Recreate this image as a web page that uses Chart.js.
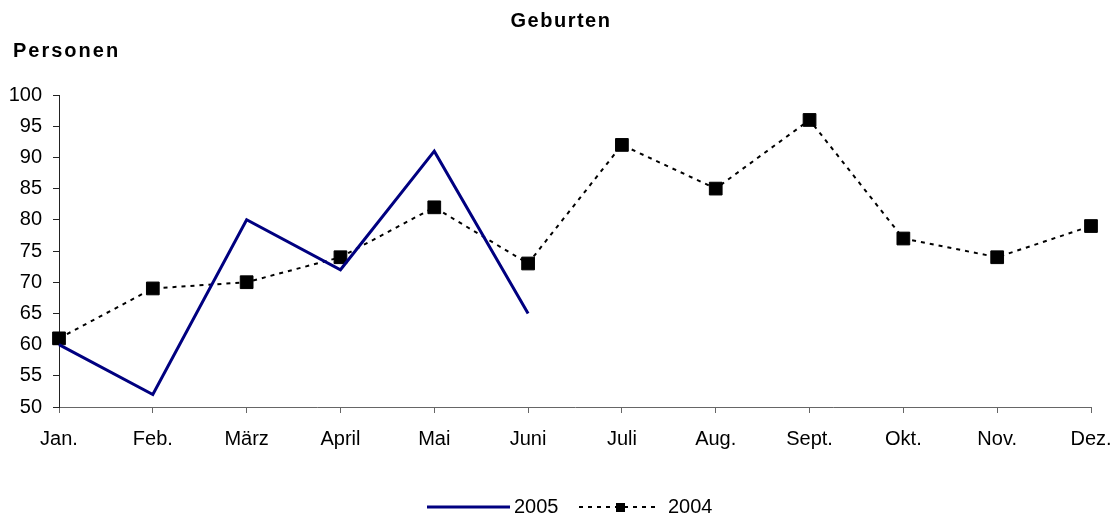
<!DOCTYPE html>
<html>
<head>
<meta charset="utf-8">
<script src="https://cdn.jsdelivr.net/npm/chart.js@4"></script>
<style>
  html, body { margin: 0; padding: 0; background: #fff; }
  #wrap { width: 1114px; height: 518px; }
</style>
</head>
<body>
<div id="wrap"><canvas id="chart"></canvas></div>
<script>
var months = ["Jan.", "Feb.", "März", "April", "Mai", "Juni", "Juli", "Aug.", "Sept.", "Okt.", "Nov.", "Dez."];
var births2005 = [60, 52, 80, 72, 91, 65, null, null, null, null, null, null];
var births2004 = [61, 69, 70, 74, 82, 73, 92, 85, 96, 77, 74, 79];
var yTicks = [50, 55, 60, 65, 70, 75, 80, 85, 90, 95, 100];

var FONT = "'Liberation Sans', Arial, sans-serif";

// titles and legend drawn by hand, Excel style
var extras = {
  id: "extras",
  afterDraw: function (chart) {
    var ctx = chart.ctx;
    ctx.save();
    ctx.fillStyle = "#000";
    ctx.font = "bold 20px " + FONT;
    ctx.letterSpacing = "1.5px";
    ctx.textBaseline = "alphabetic";
    ctx.textAlign = "center";
    ctx.fillText("Geburten", 561, 27);
    ctx.textAlign = "left";
    ctx.letterSpacing = "2px";
    ctx.fillText("Personen", 13, 57);
    ctx.letterSpacing = "0px";

    // legend
    var ds = chart.data.datasets;
    var y = 507;
    ctx.font = "20px " + FONT;
    ctx.strokeStyle = ds[0].borderColor;
    ctx.lineWidth = ds[0].borderWidth;
    ctx.beginPath();
    ctx.moveTo(427, y);
    ctx.lineTo(510, y);
    ctx.stroke();
    ctx.fillText(ds[0].label, 514, 513);

    ctx.strokeStyle = ds[1].borderColor;
    ctx.lineWidth = ds[1].borderWidth;
    ctx.setLineDash(ds[1].borderDash);
    ctx.beginPath();
    ctx.moveTo(579, y);
    ctx.lineTo(660, y);
    ctx.stroke();
    ctx.setLineDash([]);
    ctx.fillRect(616, y - 4, 9, 9);
    ctx.fillText(ds[1].label, 668, 513);
    ctx.restore();
  }
};

new Chart(document.getElementById("chart"), {
  type: "line",
  data: {
    labels: months,
    datasets: [
      {
        label: "2005",
        data: births2005,
        borderColor: "#000080",
        borderWidth: 3,
        pointRadius: 0,
        tension: 0,
        fill: false,
        spanGaps: false
      },
      {
        label: "2004",
        data: births2004,
        borderColor: "#000",
        borderWidth: 2,
        borderDash: [4, 5],
        pointStyle: "rect",
        pointRadius: 9,
        pointBackgroundColor: "#000",
        pointBorderColor: "#000",
        pointBorderWidth: 1,
        tension: 0,
        fill: false
      }
    ]
  },
  options: {
    responsive: true,
    maintainAspectRatio: false,
    animation: false,
    layout: { padding: { left: 0, right: 23, top: 95, bottom: 0 } },
    plugins: {
      legend: { display: false },
      title: { display: false },
      tooltip: { enabled: false }
    },
    scales: {
      x: {
        offset: false,
        grid: { drawOnChartArea: false, tickLength: 6, color: "#666", tickColor: "#666" },
        border: { color: "#666", width: 1 },
        ticks: {
          color: "#000",
          font: { family: FONT, size: 20 },
          padding: 14,
          autoSkip: false,
          maxRotation: 0
        },
        afterFit: function (scale) {
          scale.height = 111;
          scale.paddingLeft = 0;
          scale.paddingRight = 0;
        }
      },
      y: {
        min: 50,
        max: 100,
        afterBuildTicks: function (scale) {
          scale.ticks = yTicks.map(function (v) { return { value: v }; });
        },
        grid: { drawOnChartArea: false, tickLength: 6, color: "#222", tickColor: "#222" },
        border: { color: "#222", width: 1 },
        ticks: {
          color: "#000",
          font: { family: FONT, size: 20 },
          padding: 11
        },
        afterFit: function (scale) {
          scale.width = 59;
          scale.paddingTop = 0;
          scale.paddingBottom = 0;
        }
      }
    }
  },
  plugins: [extras]
});
</script>
</body>
</html>
